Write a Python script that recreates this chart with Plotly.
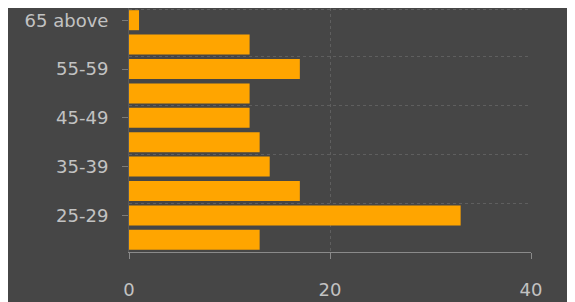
import plotly.graph_objects as go

age_groups = ["20-24", "25-29", "30-34", "35-39", "40-44", "45-49",
              "50-54", "55-59", "60-64", "65 above"]
counts = [13, 33, 17, 14, 13, 12, 12, 17, 12, 1]
shown_labels = ["25-29", "35-39", "45-49", "55-59", "65 above"]
x_ticks = [0, 20, 40]
grid_positions = [1.5, 3.5, 5.5, 7.5, 9.45]

bg = "#464646"
txt = "#c2c2c2"
grid = "#5f5f5f"
axis_c = "#8a8a8a"
font_family = "'DejaVu Sans', sans-serif"

fig = go.Figure()
fig.add_trace(go.Bar(
    x=counts, y=age_groups, orientation="h",
    marker=dict(color="#FFA500", line=dict(width=0)),
    hoverinfo="x+y",
))
fig.add_trace(go.Scatter(x=[None], y=[None], yaxis="y2", showlegend=False, hoverinfo="skip"))

fig.update_layout(
    width=567, height=294,
    margin=dict(l=121, r=44, t=0, b=50, autoexpand=False),
    paper_bgcolor=bg, plot_bgcolor=bg,
    bargap=0.18,
    showlegend=False,
    font=dict(family=font_family, size=18, color=txt),
    xaxis=dict(
        range=[0, 40], tickvals=x_ticks, ticktext=[str(v) for v in x_ticks],
        showgrid=True, gridcolor=grid, griddash="3px,3px", gridwidth=1,
        zeroline=False, showline=True, linecolor=axis_c, linewidth=1,
        ticks="outside", ticklen=6, tickcolor=axis_c,
        ticklabelstandoff=15, automargin=False,
        tickfont=dict(size=18, color=txt),
    ),
    yaxis=dict(
        type="category", categoryorder="array", categoryarray=age_groups,
        range=[-0.5, 9.5],
        tickvals=shown_labels, ticktext=shown_labels,
        showgrid=False, showline=True, linecolor="#5a5a5a", linewidth=1,
        ticks="outside", ticklen=6, tickcolor="#7a7a7a",
        ticklabelstandoff=10, automargin=False,
        tickfont=dict(size=18, color=txt),
    ),
    yaxis2=dict(
        overlaying="y", range=[-0.5, 9.5], tickvals=grid_positions,
        showticklabels=False, showgrid=True, gridcolor=grid, griddash="3px,3px",
        zeroline=False, showline=False, ticks="", automargin=False,
    ),
)

fig.write_html("out.html")
